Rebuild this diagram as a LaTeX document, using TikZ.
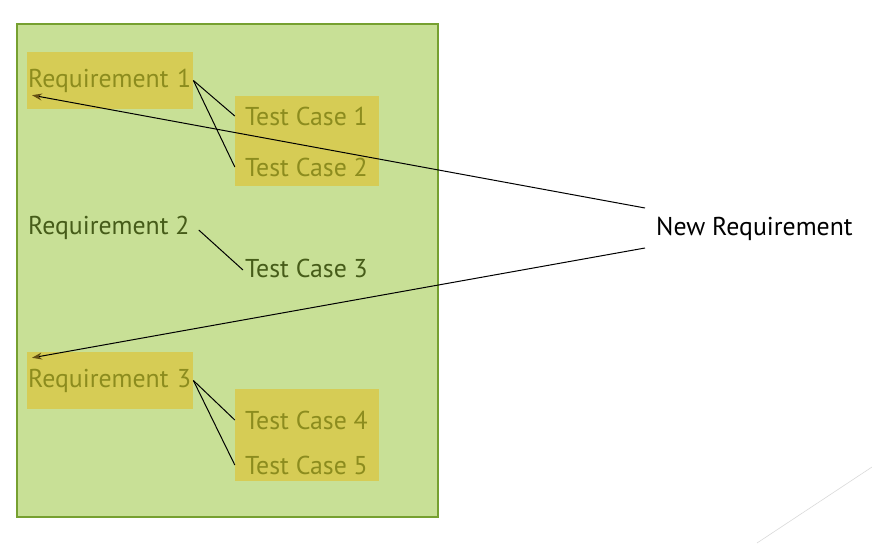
\documentclass[tikz,border=0pt]{standalone}
\usepackage{fontspec}
\setmainfont{PT Sans}
\usetikzlibrary{arrows.meta}
\definecolor{panelfill}{RGB}{200,224,150}
\definecolor{paneledge}{RGB}{118,160,48}
\definecolor{hilitefill}{RGB}{214,204,85}
\definecolor{fadedtext}{RGB}{140,140,30}
\definecolor{keeptext}{RGB}{70,92,25}
\definecolor{tipbrown}{RGB}{100,80,20}
\tikzset{
  panel/.style    = {draw=paneledge, line width=1.5pt, fill=panelfill},
  label/.style    = {anchor=west, inner sep=0pt,
                     font=\fontsize{25.8}{30}\selectfont},
  faded/.style    = {label, text=fadedtext},
  kept/.style     = {label, text=keeptext},
  hilite/.style   = {fill=hilitefill, inner sep=0pt},
  reqbox/.style   = {faded, hilite, inner xsep=1pt, text width=164pt,
                     minimum height=57pt},
  link/.style     = {draw, line width=1pt},
  newlink/.style  = {link, -{Stealth[length=10pt, width=7pt, color=tipbrown]}}
}

\begin{document}
\begin{tikzpicture}
  [
    x = 1pt,
    y = -1pt
  ]
  \useasboundingbox (0,0) rectangle (872,543);
  \draw [panel] (17,24) rectangle (438,517);
  % slide ornament
  \draw [black!15, line width=0.6pt] (757,543) -- (872,467);

  % requirement 1 and its test cases
  \node [reqbox] (req1) at (27,80.5) {Requirement 1};
  \node [hilite, minimum width=144pt, minimum height=90pt] (tcbox1) at (307,141) {};
  \node [faded] (tc1) at (245,116) {Test Case 1};
  \node [faded] (tc2) at (245,167) {Test Case 2};

  % requirement 2
  \node [kept, inner xsep=4pt] (req2) at (24,228) {Requirement 2};
  \node [kept] (tc3) at (245,268) {Test Case 3};

  % requirement 3 and its test cases
  \node [reqbox] (req3) at (27,380.5) {Requirement 3};
  \node [hilite, minimum width=144pt, minimum height=92pt] (tcbox2) at (307,435) {};
  \node [faded] (tc4) at (245,420) {Test Case 4};
  \node [faded] (tc5) at (245,465) {Test Case 5};

  \node [label] (newreq) at (656,229) {New Requirement};

  \draw [link] (req1.east) -- (tc1.west -| tcbox1.west);
  \draw [link] (req1.east) -- (tc2.west -| tcbox1.west);
  \draw [link] ([shift={(5,2)}]req2.east) -- ([shift={(-2,2)}]tc3.west);
  \draw [link] (req3.east) -- (tc4.west -| tcbox2.west);
  \draw [link] (req3.east) -- (tc5.west -| tcbox2.west);

  \draw [newlink] ([shift={(-11,-21)}]newreq.west) -- ([shift={(5,-14)}]req1.south west);
  \draw [newlink] ([shift={(-11,19)}]newreq.west) -- ([shift={(5,6)}]req3.north west);
\end{tikzpicture}
\end{document}
